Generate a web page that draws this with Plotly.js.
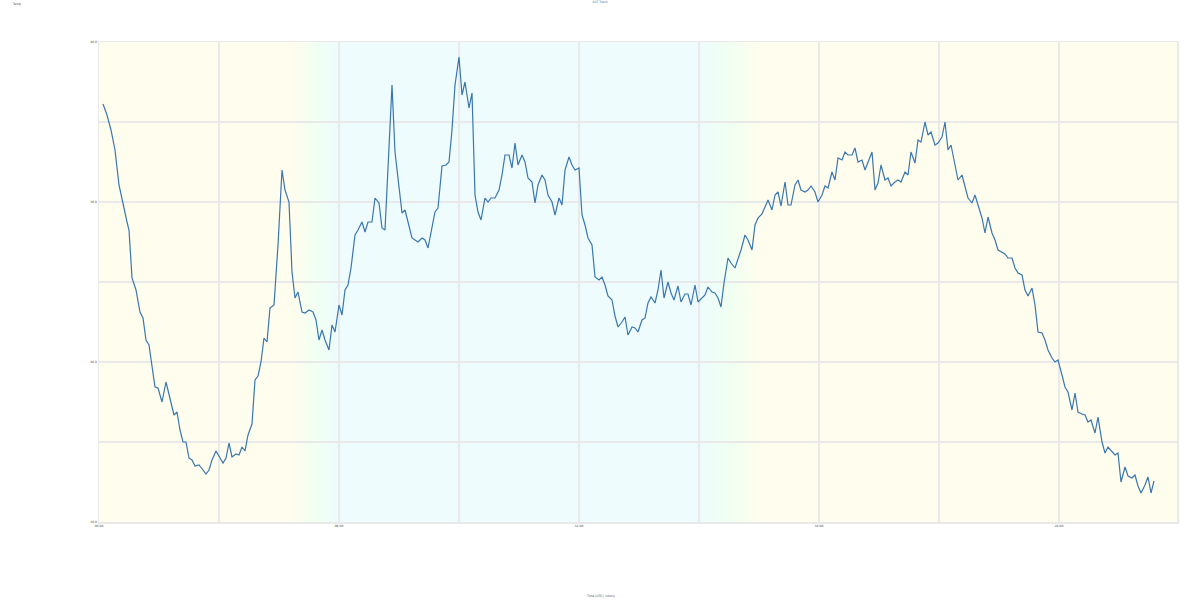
<!DOCTYPE html>
<html>
<head>
<meta charset="utf-8">
<script src="https://cdn.plot.ly/plotly-3.0.1.min.js"></script>
<style>html,body{margin:0;padding:0;background:#fff;}#chart{width:1200px;height:600px;}</style>
</head>
<body>
<div id="chart"></div>
<script>
// Read positions along the time axis (axis units) and series values
const xPos = [103,107,111,115,119,123,127,129,132,136,140,143,146,149,152,155,158,162,166,170,174,177,180,183,186,189,192,195,199,203,206,209,212,216,219,223,226,229,232,236,239,242,245,248,252,255,258,261,264,267,270,274,278,282,285,289,292,295,298,302,305,309,313,316,319,322,325,329,332,335,339,342,345,348,351,355,358,362,365,368,372,375,379,382,385,389,392,395,399,402,405,408,412,415,418,422,425,428,432,435,438,442,446,449,452,455,459,462,465,469,472,475,478,481,485,488,491,495,499,502,505,509,512,515,518,522,525,528,532,535,538,542,545,548,552,555,559,562,565,569,572,575,579,582,585,588,592,595,599,602,605,608,612,615,618,622,625,628,632,635,638,642,645,648,651,655,658,661,664,668,671,674,678,681,685,688,691,695,698,702,705,708,712,715,718,721,724,728,731,735,738,741,745,748,752,755,758,762,765,768,772,775,778,781,785,788,791,795,798,801,805,808,811,815,818,822,825,828,832,835,838,842,845,848,852,855,858,862,865,868,872,875,878,881,885,888,891,895,898,901,905,908,911,915,918,921,925,928,931,935,938,942,945,948,951,955,958,962,965,968,972,975,978,982,985,988,992,995,998,1002,1005,1008,1012,1015,1018,1022,1025,1028,1032,1035,1038,1042,1045,1048,1052,1055,1058,1062,1065,1068,1072,1075,1078,1082,1085,1088,1091,1095,1098,1102,1105,1108,1112,1115,1118,1121,1125,1128,1132,1135,1138,1141,1145,1148,1151,1154];
const values = [418,407,392,372,337,317,300,292,244,232,210,204,182,177,154,135,134,120,140,124,107,110,92,80,80,64,62,56,57,52,48,52,62,71,66,59,64,79,65,68,67,75,71,87,98,142,146,160,184,180,214,217,277,352,332,320,250,224,230,210,209,212,210,202,182,192,182,172,197,190,217,207,232,237,254,287,292,300,290,300,300,324,319,294,292,382,437,370,337,309,312,300,284,282,280,284,282,274,297,310,314,356,357,360,392,437,465,427,440,414,429,327,310,302,324,320,324,324,332,347,367,367,354,379,357,367,360,344,340,319,337,347,342,327,320,307,324,317,352,365,357,352,354,307,297,284,277,245,242,245,237,226,222,206,195,200,205,187,195,194,190,202,204,219,225,219,232,252,224,240,229,222,236,220,228,228,217,237,220,224,227,235,230,229,224,215,239,264,259,254,262,272,287,282,272,297,304,308,315,322,312,327,330,316,340,317,317,337,342,332,330,332,336,330,320,327,336,334,350,342,364,362,370,367,367,374,360,362,352,360,370,332,339,357,342,344,336,340,342,340,350,347,370,359,382,380,400,387,390,377,379,385,400,372,377,357,342,347,334,324,319,327,317,304,289,305,289,282,272,270,268,264,264,254,249,247,232,226,234,217,190,189,182,172,164,160,162,147,135,130,112,129,110,108,107,100,102,89,105,80,69,75,71,67,69,40,55,46,44,47,36,29,37,45,29,41];

const xTickVals = [99,219,339,459,579,699,819,939,1059];
const xTickText = ['00:00','','06:00','','12:00','','18:00','','24:00'];
const yTickVals = [0,80,160,240,320,400,480];
const yTickText = ['10.0','','20.0','','30.0','','40.0'];

// Background zones (axis positions and colours)
const zoneStops = [[99,[255,253,238]],[292,[255,253,238]],[318,[240,255,242]],[340,[238,252,253]],[700,[238,252,253]],[730,[240,255,242]],[762,[255,253,238]],[1177,[255,253,238]]];

const shapes = [];
for (let s = 0; s < zoneStops.length - 1; s++) {
  const [a, ca] = zoneStops[s], [b, cb] = zoneStops[s+1];
  const same = ca.every((v,i)=>v===cb[i]);
  const step = same ? (b - a) : 2;
  for (let x = a; x < b; x += step) {
    const t = (x + step/2 - a) / (b - a);
    const c = ca.map((v,i)=>Math.round(v + (cb[i]-v)*t));
    shapes.push({type:'rect', layer:'below', xref:'x', yref:'paper', x0:x, x1:Math.min(b, x+step+0.5), y0:0, y1:1,
      fillcolor:`rgb(${c[0]},${c[1]},${c[2]})`, line:{width:0}});
  }
}

const trace = {x:xPos, y:values, type:'scatter', mode:'lines', line:{color:'#3a76b0', width:1.2}, hoverinfo:'skip'};

const layout = {
  width:1200, height:600,
  margin:{l:99, r:23, t:42, b:78},
  paper_bgcolor:'#ffffff', plot_bgcolor:'#ffffff',
  showlegend:false,
  font:{family:'DejaVu Sans, sans-serif', size:3, color:'#333'},
  title:{text:'SST Trend', x:0.5, xanchor:'center', y:0.999, yanchor:'top', font:{size:3, color:'#3a76b0'}},
  xaxis:{range:[99,1177], tickmode:'array', tickvals:xTickVals, ticktext:xTickText, showgrid:true, gridcolor:'#e9e9e9', gridwidth:1.5,
    zeroline:false, showline:true, mirror:true, linecolor:'#e9e9e9', linewidth:1.5, ticks:'', tickfont:{size:3, color:'#444'}},
  yaxis:{range:[0,480], tickmode:'array', tickvals:yTickVals, ticktext:yTickText, showgrid:true, gridcolor:'#e9e9e9', gridwidth:1.5,
    zeroline:false, showline:true, mirror:true, linecolor:'#e9e9e9', linewidth:1.5, ticks:'', tickfont:{size:3, color:'#444'}},
  shapes:shapes,
  annotations:[
    {text:'Temp', xref:'paper', yref:'paper', x:-0.083, y:1.0875, xanchor:'left', yanchor:'top', showarrow:false, font:{size:3, color:'#444'}},
    {text:'Time (UTC), hourly', xref:'paper', yref:'paper', x:(600-99)/1078, y:-0.1625, xanchor:'center', yanchor:'bottom', showarrow:false, font:{size:3, color:'#444'}}
  ]
};

Plotly.newPlot('chart', [trace], layout, {staticPlot:true, displayModeBar:false});
</script>
</body>
</html>
